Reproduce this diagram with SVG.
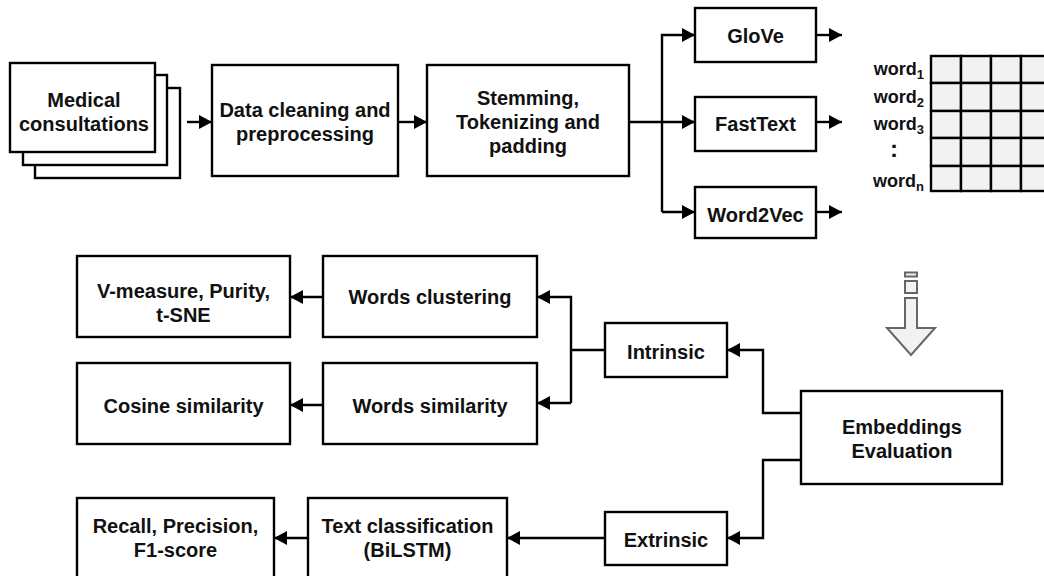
<svg xmlns="http://www.w3.org/2000/svg" width="1044" height="576" viewBox="0 0 1044 576">
<style>
.box{fill:#fff;stroke:#000;stroke-width:2.4}
.t{font-family:"Liberation Sans",Arial,Helvetica,sans-serif;font-weight:bold;font-size:20px;fill:#111;text-anchor:middle}
.w{font-family:"Liberation Sans",Arial,Helvetica,sans-serif;font-weight:bold;font-size:18px;fill:#111;text-anchor:end}
.c{fill:none;stroke:#000;stroke-width:2.4}
.cell{fill:#f2f2f2;stroke:#000;stroke-width:2.4}
.ha{fill:#f2f2f2;stroke:#666;stroke-width:2}
</style>
<defs>
<marker id="ah" markerUnits="userSpaceOnUse" markerWidth="14" markerHeight="15" refX="13" refY="7.5" orient="auto">
<path d="M0,0.5 L13,7.5 L0,14.5 z" fill="#000"/>
</marker>
</defs>
<rect width="1044" height="576" fill="#fff"/>

<g id="medical">
<rect class="box" x="35" y="88" width="145" height="90"/>
<rect class="box" x="23" y="75" width="144" height="90"/>
<rect class="box" x="10" y="63" width="145" height="89"/>
<text class="t" x="84" y="107">Medical</text>
<text class="t" x="84" y="131">consultations</text>
</g>
<g id="cleaning">
<rect class="box" x="212" y="65" width="186" height="111"/>
<text class="t" x="305" y="117">Data cleaning and</text>
<text class="t" x="305" y="141">preprocessing</text>
</g>
<g id="stemming">
<rect class="box" x="427" y="65" width="202" height="111"/>
<text class="t" x="528" y="105">Stemming,</text>
<text class="t" x="528" y="129">Tokenizing and</text>
<text class="t" x="528" y="153">padding</text>
</g>
<g id="glove">
<rect class="box" x="695" y="8" width="121" height="54"/>
<text class="t" x="755.5" y="43">GloVe</text>
</g>
<g id="fasttext">
<rect class="box" x="695" y="97" width="121" height="54"/>
<text class="t" x="755.5" y="131">FastText</text>
</g>
<g id="word2vec">
<rect class="box" x="695" y="187" width="121" height="51"/>
<text class="t" x="755.5" y="222">Word2Vec</text>
</g>
<g id="matrix">
<rect class="cell" x="931" y="56" width="30" height="27"/>
<rect class="cell" x="961" y="56" width="30" height="27"/>
<rect class="cell" x="991" y="56" width="30" height="27"/>
<rect class="cell" x="1021" y="56" width="30" height="27"/>
<rect class="cell" x="931" y="83" width="30" height="28"/>
<rect class="cell" x="961" y="83" width="30" height="28"/>
<rect class="cell" x="991" y="83" width="30" height="28"/>
<rect class="cell" x="1021" y="83" width="30" height="28"/>
<rect class="cell" x="931" y="111" width="30" height="27"/>
<rect class="cell" x="961" y="111" width="30" height="27"/>
<rect class="cell" x="991" y="111" width="30" height="27"/>
<rect class="cell" x="1021" y="111" width="30" height="27"/>
<rect class="cell" x="931" y="138" width="30" height="28"/>
<rect class="cell" x="961" y="138" width="30" height="28"/>
<rect class="cell" x="991" y="138" width="30" height="28"/>
<rect class="cell" x="1021" y="138" width="30" height="28"/>
<rect class="cell" x="931" y="166" width="30" height="25"/>
<rect class="cell" x="961" y="166" width="30" height="25"/>
<rect class="cell" x="991" y="166" width="30" height="25"/>
<rect class="cell" x="1021" y="166" width="30" height="25"/>
<text class="w" x="924" y="75">word<tspan font-size="13" dy="4">1</tspan></text>
<text class="w" x="924" y="103">word<tspan font-size="13" dy="4">2</tspan></text>
<text class="w" x="924" y="130">word<tspan font-size="13" dy="4">3</tspan></text>
<text class="w" x="894" y="157" font-size="24" style="text-anchor:middle;font-size:24px">:</text>
<text class="w" x="924" y="187">word<tspan font-size="13" dy="4">n</tspan></text>
</g>
<g id="hollow-arrow">
<rect class="ha" x="905" y="272.5" width="12" height="4"/>
<rect class="ha" x="905" y="281" width="12" height="12"/>
<path class="ha" d="M905,298 L917,298 L917,328 L935,328 L911,355 L887,328 L905,328 z"/>
</g>
<g id="vmeasure">
<rect class="box" x="77" y="256" width="213" height="81"/>
<text class="t" x="183.5" y="298">V-measure, Purity,</text>
<text class="t" x="183.5" y="322">t-SNE</text>
</g>
<g id="clustering">
<rect class="box" x="323" y="256" width="214" height="81"/>
<text class="t" x="430" y="304">Words clustering</text>
</g>
<g id="cosine">
<rect class="box" x="77" y="363" width="213" height="81"/>
<text class="t" x="183.5" y="413">Cosine similarity</text>
</g>
<g id="similarity">
<rect class="box" x="323" y="363" width="214" height="81"/>
<text class="t" x="430" y="413">Words similarity</text>
</g>
<g id="intrinsic">
<rect class="box" x="605" y="323" width="122" height="54"/>
<text class="t" x="666" y="359">Intrinsic</text>
</g>
<g id="extrinsic">
<rect class="box" x="605" y="512" width="122" height="53"/>
<text class="t" x="666" y="547">Extrinsic</text>
</g>
<g id="evaluation">
<rect class="box" x="801" y="391" width="201" height="93"/>
<text class="t" x="902" y="434">Embeddings</text>
<text class="t" x="902" y="458">Evaluation</text>
</g>
<g id="recall">
<rect class="box" x="77" y="498" width="197" height="82"/>
<text class="t" x="175.5" y="533">Recall, Precision,</text>
<text class="t" x="175.5" y="557">F1-score</text>
</g>
<g id="textclass">
<rect class="box" x="308" y="498" width="199" height="82"/>
<text class="t" x="407.5" y="533">Text classification</text>
<text class="t" x="407.5" y="557">(BiLSTM)</text>
</g>

<g id="connectors">
<path class="c" d="M187,122 L212,122" marker-end="url(#ah)"/>
<path class="c" d="M398,122 L427,122" marker-end="url(#ah)"/>
<path class="c" d="M629,122 L695,122" marker-end="url(#ah)"/>
<path class="c" d="M662,212 L662,35 L695,35" marker-end="url(#ah)"/>
<path class="c" d="M662,212 L695,212" marker-end="url(#ah)"/>
<path class="c" d="M816,35 L842,35" marker-end="url(#ah)"/>
<path class="c" d="M816,122 L842,122" marker-end="url(#ah)"/>
<path class="c" d="M816,212 L842,212" marker-end="url(#ah)"/>
<path class="c" d="M801,413 L763,413 L763,350 L727,350" marker-end="url(#ah)"/>
<path class="c" d="M801,460 L763,460 L763,538 L727,538" marker-end="url(#ah)"/>
<path class="c" d="M605,350 L571,350"/>
<path class="c" d="M571,403 L571,297 L537,297" marker-end="url(#ah)"/>
<path class="c" d="M571,403 L537,403" marker-end="url(#ah)"/>
<path class="c" d="M323,297 L290,297" marker-end="url(#ah)"/>
<path class="c" d="M323,405 L290,405" marker-end="url(#ah)"/>
<path class="c" d="M605,538 L507,538" marker-end="url(#ah)"/>
<path class="c" d="M308,538 L274,538" marker-end="url(#ah)"/>
</g>
</svg>
